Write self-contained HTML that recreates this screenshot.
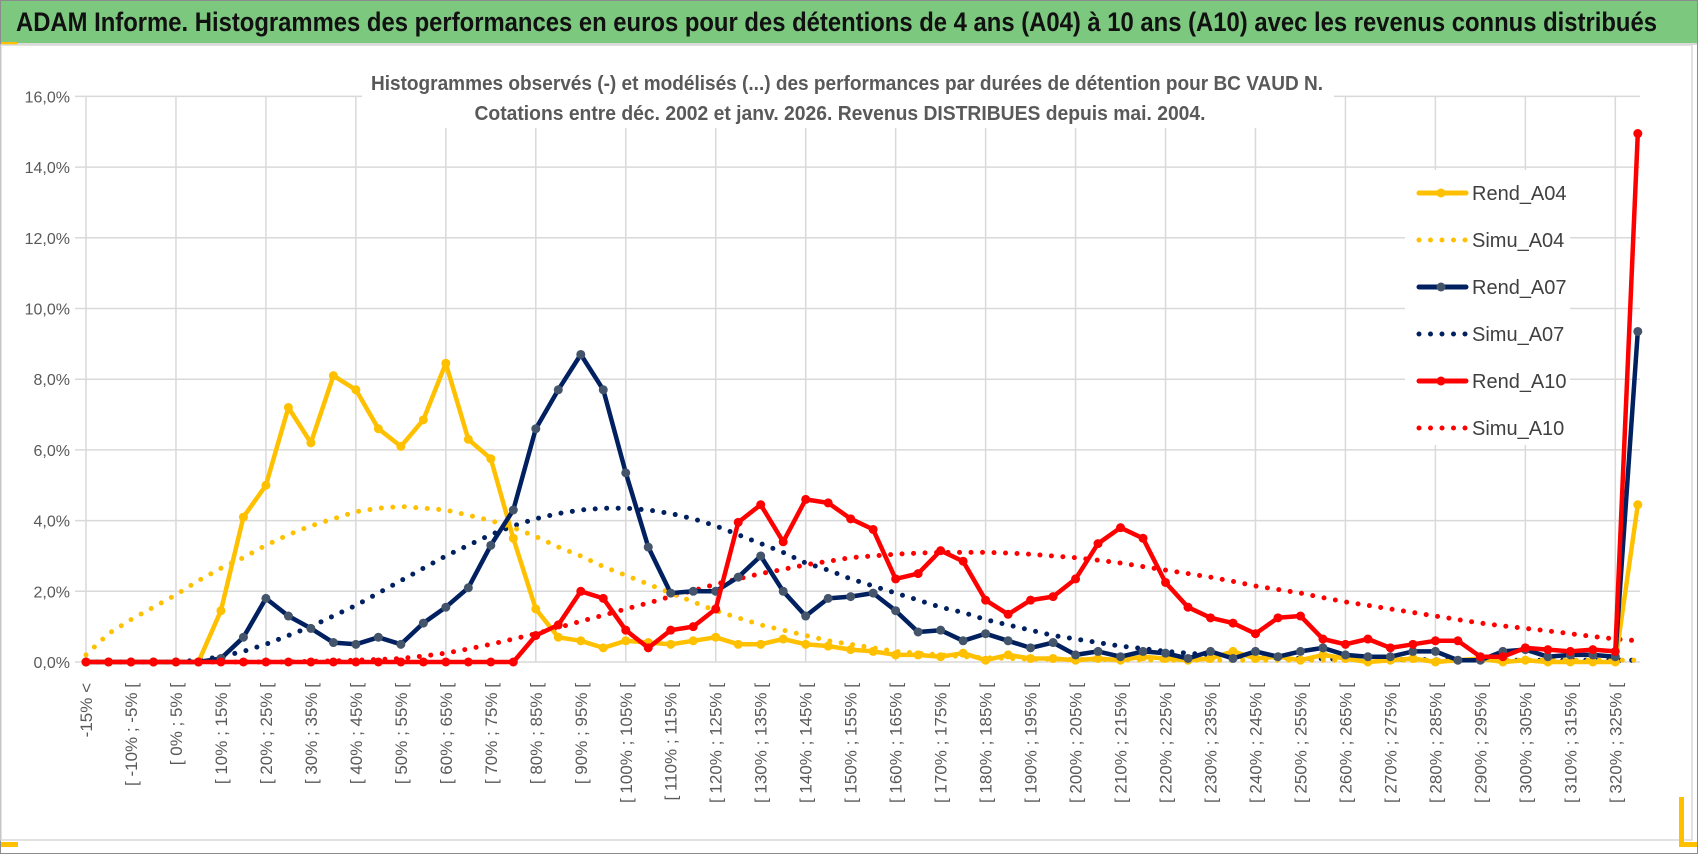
<!DOCTYPE html>
<html><head><meta charset="utf-8">
<style>
html,body{margin:0;padding:0;background:#fff;}
svg{display:block;font-family:"Liberation Sans",Arial,sans-serif;}
</style></head>
<body>
<svg id="chart" width="1698" height="854" viewBox="0 0 1698 854">
  <rect x="0.5" y="0.5" width="1697" height="853" fill="#fff" stroke="#8c8c8c"/>
  <rect x="1" y="1" width="1696" height="42" fill="#7dc87f"/>
  <line x1="1" y1="44" x2="1697" y2="44" fill="none" stroke="#d9d9d9" stroke-width="2"/>
  <rect x="1" y="42" width="16" height="3" fill="#ffc000"/>
  <text x="16" y="31" font-size="27" font-weight="bold" fill="#111" textLength="1641" lengthAdjust="spacingAndGlyphs">ADAM Informe. Histogrammes des performances en euros pour des détentions de 4 ans (A04) à 10 ans (A10) avec les revenus connus distribués</text>
  <rect x="1" y="45" width="1691" height="795" fill="none" stroke="#d9d9d9" stroke-width="1.5"/>
  <rect x="1" y="842" width="17" height="5" fill="#ffc000"/>
  <rect x="1679" y="797" width="5" height="50" fill="#ffc000"/>
  <rect x="1680" y="842" width="17" height="5" fill="#ffc000"/>
  <g id="grid"></g>
  <rect x="362" y="64" width="972" height="64" fill="#fff"/>
  <text x="847" y="90" font-size="20" font-weight="bold" fill="#595959" text-anchor="middle" textLength="952" lengthAdjust="spacingAndGlyphs">Histogrammes observés (-) et modélisés (...) des performances par durées de détention pour BC VAUD N.</text>
  <text x="840" y="120" font-size="20" font-weight="bold" fill="#595959" text-anchor="middle" textLength="731" lengthAdjust="spacingAndGlyphs">Cotations entre déc. 2002 et janv. 2026. Revenus DISTRIBUES depuis mai. 2004.</text>
  <g id="yaxis"></g>
  <g id="xaxis"></g>
  <g id="legendbg"></g>
  <g id="series"></g>
  <g id="legend"></g>
</svg>
<script>
const yTicks = [0,2,4,6,8,10,12,14,16];
const rendA04 = [0,0,0,0,0,0,1.45,4.1,5.0,7.2,6.2,8.1,7.7,6.6,6.1,6.85,8.45,6.3,5.75,3.5,1.5,0.7,0.6,0.4,0.6,0.55,0.5,0.6,0.7,0.5,0.5,0.65,0.5,0.45,0.35,0.3,0.2,0.2,0.15,0.25,0.05,0.2,0.1,0.1,0.05,0.1,0.05,0.15,0.1,0.05,0.1,0.3,0.1,0.15,0.05,0.2,0.1,0.0,0.05,0.1,0.0,0.05,0.1,0.0,0.05,0.0,0.0,0.0,0.0,4.45];
const simuA04 = [0.2,0.8,1.2,1.55,1.9,2.3,2.65,2.95,3.3,3.6,3.85,4.05,4.25,4.35,4.4,4.35,4.3,4.15,4.0,3.8,3.55,3.25,3.0,2.7,2.45,2.2,1.95,1.7,1.45,1.25,1.05,0.9,0.75,0.6,0.5,0.4,0.3,0.25,0.2,0.15,0.12,0.1,0.08,0.08,0.07,0.07,0.06,0.06,0.05,0.05,0.05,0.05,0.05,0.05,0.05,0.05,0.05,0.05,0.05,0.05,0.05,0.05,0.05,0.05,0.05,0.05,0.05,0.05,0.05,0.05];
const rendA07 = [0,0,0,0,0,0,0.1,0.7,1.8,1.3,0.95,0.55,0.5,0.7,0.5,1.1,1.55,2.1,3.3,4.3,6.6,7.7,8.7,7.7,5.35,3.25,1.95,2.0,2.0,2.4,3.0,2.0,1.3,1.8,1.85,1.95,1.45,0.85,0.9,0.6,0.8,0.6,0.4,0.55,0.2,0.3,0.15,0.3,0.25,0.1,0.3,0.1,0.3,0.15,0.3,0.4,0.2,0.15,0.15,0.3,0.3,0.05,0.05,0.3,0.35,0.15,0.2,0.2,0.15,9.35];
const simuA07 = [0,0,0,0,0,0.05,0.15,0.3,0.5,0.75,1.0,1.3,1.6,1.95,2.3,2.65,3.0,3.3,3.6,3.85,4.05,4.2,4.3,4.35,4.35,4.3,4.2,4.05,3.85,3.6,3.35,3.1,2.8,2.6,2.35,2.15,1.95,1.75,1.55,1.4,1.2,1.05,0.9,0.75,0.65,0.55,0.45,0.38,0.3,0.25,0.2,0.17,0.14,0.12,0.1,0.09,0.08,0.08,0.07,0.07,0.06,0.06,0.06,0.05,0.05,0.05,0.05,0.05,0.05,0.05];
const rendA10 = [0,0,0,0,0,0,0,0,0,0,0,0,0,0,0,0,0,0,0,0.0,0.75,1.05,2.0,1.8,0.9,0.4,0.9,1.0,1.5,3.95,4.45,3.4,4.6,4.5,4.05,3.75,2.35,2.5,3.15,2.85,1.75,1.35,1.75,1.85,2.35,3.35,3.8,3.5,2.25,1.55,1.25,1.1,0.8,1.25,1.3,0.65,0.5,0.65,0.4,0.5,0.6,0.6,0.15,0.15,0.4,0.35,0.3,0.35,0.3,14.95];
const simuA10 = [0,0,0,0,0,0,0,0,0,0,0.02,0.03,0.05,0.07,0.1,0.17,0.25,0.37,0.5,0.65,0.8,0.97,1.15,1.32,1.5,1.67,1.85,2.02,2.2,2.35,2.5,2.62,2.75,2.85,2.95,3.0,3.05,3.08,3.1,3.1,3.1,3.08,3.05,3.0,2.95,2.88,2.8,2.7,2.6,2.5,2.4,2.28,2.15,2.05,1.95,1.82,1.7,1.6,1.5,1.4,1.3,1.2,1.1,1.02,0.95,0.88,0.8,0.72,0.65,0.6];

const NS="http://www.w3.org/2000/svg";
const X0=86, STEP=22.49, Y0=662, PY=35.35;
function xs(i){return X0+STEP*i;}
function ys(v){return Y0-PY*v;}
function mk(tag,attrs,parent){const e=document.createElementNS(NS,tag);for(const k in attrs)e.setAttribute(k,attrs[k]);parent.appendChild(e);return e;}
function catLabel(i){
  if(i===0) return "-15% <";
  if(i===69) return "325% <";
  const lo=5*i-20, hi=5*i-15;
  return "[ "+lo+"% ; "+hi+"% [";
}
const grid=document.getElementById('grid');
yTicks.forEach(t=>{
  const l=mk('line',{x1:75,x2:1640,y1:ys(t),y2:ys(t),stroke:'#d9d9d9','stroke-width':1.5},grid);
  
  
});
for(let i=0;i<=68;i+=4){
  const l=mk('line',{x1:xs(i),x2:xs(i),y1:ys(16),y2:ys(0),stroke:'#d9d9d9','stroke-width':1.5},grid);
  
  
}
const ya=document.getElementById('yaxis');
yTicks.forEach(t=>{
  const tx=mk('text',{x:70,y:ys(t)+6,'font-size':16,fill:'#595959','text-anchor':'end'},ya);
  tx.textContent=t.toFixed(1).replace('.',',')+'%';
  
  
});
const xa=document.getElementById('xaxis');
for(let i=0;i<70;i+=2){
  const x=xs(i)+6;
  const tx=mk('text',{x:x,y:683,'font-size':17,fill:'#595959','text-anchor':'end',transform:'rotate(-90 '+x+' 683)'},xa);
  tx.textContent=catLabel(i);
  
  
}
mk('rect',{x:1405,y:170,width:165,height:275,fill:'#fff'},document.getElementById('legendbg'));

const S=document.getElementById('series');
function pts(arr){return arr.map((v,i)=>xs(i).toFixed(1)+','+ys(v).toFixed(1)).join(' ');}
function dotted(arr,color,name){
  const p=mk('polyline',{points:pts(arr),fill:'none',stroke:color,'stroke-width':5,'stroke-linecap':'round','stroke-dasharray':'0 11.5'},S);
  
  
}
function solid(arr,color,mcolor,name){
  const g=mk('g',{},S);
  
  
  mk('polyline',{points:pts(arr),fill:'none',stroke:color,'stroke-width':4.5,'stroke-linejoin':'round'},g);
  arr.forEach((v,i)=>{
    const c=mk('circle',{cx:xs(i),cy:ys(v),r:4.5,fill:mcolor},g);
    
    
  });
}
dotted(simuA10,'#ff0000','simu-a10-line');
dotted(simuA07,'#002060','simu-a07-line');
dotted(simuA04,'#ffc000','simu-a04-line');
solid(rendA04,'#ffc000','#ffc000','rend-a04-line');
solid(rendA07,'#002060','#44546a','rend-a07-line');
solid(rendA10,'#ff0000','#ff0000','rend-a10-line');

const L=document.getElementById('legend');
const entries=[["Rend_A04",'#ffc000','#ffc000',false],["Simu_A04",'#ffc000',null,true],["Rend_A07",'#002060','#44546a',false],["Simu_A07",'#002060',null,true],["Rend_A10",'#ff0000','#ff0000',false],["Simu_A10",'#ff0000',null,true]];
entries.forEach((e,k)=>{
  const y=193+47*k;
  const g=mk('g',{},L);
  
  
  if(e[3]){
    mk('line',{x1:1419,x2:1466,y1:y,y2:y,stroke:e[1],'stroke-width':5,'stroke-linecap':'round','stroke-dasharray':'0 11.5'},g);
  } else {
    mk('line',{x1:1419,x2:1466,y1:y,y2:y,stroke:e[1],'stroke-width':5,'stroke-linecap':'round'},g);
    mk('circle',{cx:1441,cy:y,r:4.5,fill:e[2]},g);
  }
  const t=mk('text',{x:1472,y:y+7,'font-size':20,fill:'#404040'},g);
  t.textContent=e[0];
});
</script>
</body></html>
